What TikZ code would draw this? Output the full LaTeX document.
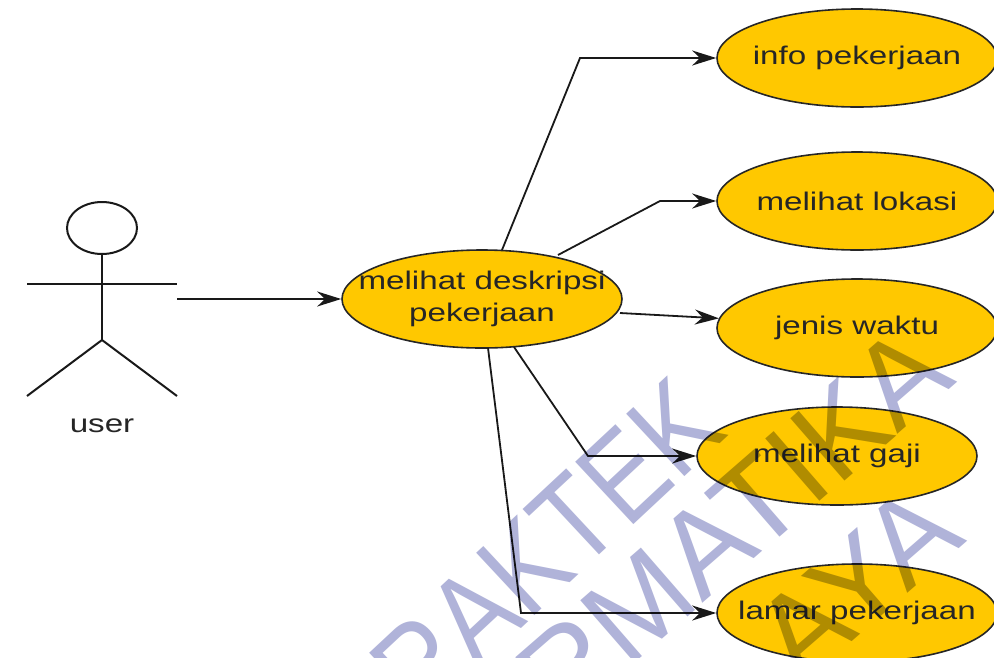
\documentclass[tikz,border=0pt]{standalone}
\usepackage{fontspec}
\setmainfont{Liberation Sans}
\newfontfamily\ucfont[FakeStretch=1.3]{Liberation Sans}
\newfontfamily\wmfont[FakeStretch=0.85]{Liberation Sans}
\newfontfamily\wmwide[FakeStretch=1.0]{Liberation Sans}
\usetikzlibrary{arrows.meta,shapes.geometric}
\definecolor{uc}{HTML}{FFC800}
\definecolor{wm}{HTML}{B0B3D9}
\tikzset{
 px/.style={x=1pt,y=-1pt},
 ucase/.style={ellipse,draw=black!85,line width=1.6pt,fill=uc,minimum width=280pt,minimum height=98pt,inner xsep=-40pt,inner ysep=0pt,align=center,font=\ucfont\fontsize{25.5}{32}\selectfont,text=black!85},
 conn/.style={draw=black!90,line width=1.8pt,-{Stealth[length=24pt,width=15pt]}},
 stick/.style={draw=black!90,line width=2pt},
 wmark/.style={text=wm,font=\wmfont\fontsize{124}{124}\selectfont,rotate=43,anchor=base east,inner sep=0pt,blend mode=multiply},
 wmarkwide/.style={text=wm,font=\wmwide\fontsize{120}{120}\selectfont,rotate=41,anchor=base east,inner sep=0pt,blend mode=multiply}
}
\begin{document}
\begin{tikzpicture}[px]
\useasboundingbox (0,0) rectangle (994,657);
\fill[white] (0,0) rectangle (994,657);
\node[ucase] (d) at (482,299) {melihat deskripsi\\pekerjaan};
\node[ucase] (a) at (857,58) {info pekerjaan};
\node[ucase] (b) at (857,201) {melihat lokasi};
\node[ucase] (c) at (857,328) {jenis waktu};
\node[ucase] (e) at (837,456) {melihat gaji};
\node[ucase] (f) at (857,613) {lamar pekerjaan};
\node[stick,ellipse,minimum width=70pt,minimum height=52pt,inner sep=0pt] (head) at (102,228) {};
\coordinate (hip) at (102,340);
\coordinate (armL) at (27,284);
\coordinate (armR) at (177,284);
\coordinate (footL) at (27,396);
\coordinate (footR) at (177,396);
\coordinate (start) at (177,299);
\draw[stick] (head.south) -- (hip);
\draw[stick] (armL) -- (armR);
\draw[stick] (footL) -- (hip) -- (footR);
\node[font=\ucfont\fontsize{25.5}{30}\selectfont,text=black!85] (user) at (102,426) {user};
\draw[conn] (start) -- (d.west);
\coordinate (k1) at (580,58);
\coordinate (k2) at (660,201);
\coordinate (k3) at (588,456);
\coordinate (k4) at (521,613);
\coordinate (s1) at (502,250);
\coordinate (s2) at (558,255);
\coordinate (s3) at (620,313);
\coordinate (s4) at (514,347);
\coordinate (s5) at (488,348);
\draw[conn] (s1) -- (k1) -- (a.west);
\draw[conn] (s2) -- (k2) -- (b.west);
\draw[conn] (s3) -- (c.176);
\draw[conn] (s4) -- (k3) -- (e.west);
\draw[conn] (s5) -- (k4) -- (f.west);
\begin{scope}
\clip (0,0) rectangle (994,657);
\node[wmark] (w1) at (730,434) {PRAKTEK};
\node[wmarkwide] (w2) at (958,382) {INFORMATIKA};
\node[wmarkwide] (w3) at (968,541) {AYA};
\end{scope}
\end{tikzpicture}
\end{document}
